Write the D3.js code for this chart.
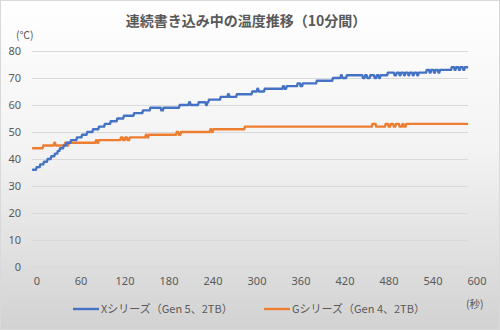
<!DOCTYPE html>
<html><head><meta charset="utf-8">
<script src="https://cdn.jsdelivr.net/npm/d3@7/dist/d3.min.js"></script>
<style>
html,body{margin:0;padding:0;background:#fff;}
svg{display:block;}
text{font-family:"Noto Sans CJK JP","Noto Sans",sans-serif;fill:#595959;}
</style></head>
<body>
<svg id="c" width="500" height="330"></svg>
<script>
// ---- data ----
const title = "連続書き込み中の温度推移（10分間）";
const seriesNames = ["Xシリーズ（Gen 5、2TB）", "Gシリーズ（Gen 4、2TB）"];
const yTicks = [0,10,20,30,40,50,60,70,80];
const xTicks = [0,60,120,180,240,300,360,420,480,540,600];
const endTime = 592;
// change points: [second, °C]
const xSeries = [[0,36],[5,37],[10,38],[15,39],[20,40],[25,41],[30,42],[34,43],[37,44],[42,45],[46,46],[52,47],[60,48],[67,49],[74,50],[82,51],[90,52],[98,53],[106,54],[115,55],[124,56],[138,57],[150,58],[160,59],[175,58],[178,59],[200,60],[213,61],[215,60],[226,61],[236,60],[238,61],[240,62],[256,63],[266,64],[268,63],[278,64],[299,65],[306,66],[308,65],[316,66],[341,67],[343,66],[346,67],[361,68],[365,67],[368,68],[387,69],[409,70],[420,71],[422,70],[428,71],[450,70],[453,71],[456,70],[460,71],[466,70],[469,71],[472,70],[474,71],[484,72],[493,71],[496,72],[500,71],[502,72],[506,71],[508,72],[512,71],[514,72],[518,71],[520,72],[524,71],[526,72],[537,73],[541,72],[543,73],[547,72],[549,73],[553,72],[555,73],[571,74],[575,73],[577,74],[581,73],[583,74],[587,73],[589,74]];
const gSeries = [[0,44],[14,45],[29,46],[31,45],[44,46],[47,45],[49,46],[86,47],[88,46],[90,47],[120,48],[123,47],[126,48],[129,47],[132,48],[154,49],[156,48],[158,49],[196,50],[199,49],[202,50],[242,51],[244,50],[246,51],[289,52],[463,53],[468,52],[481,53],[485,52],[488,53],[492,52],[495,53],[500,52],[504,53],[506,52],[509,53]];
const colors = ["#4472C4", "#ED7D31"];

// ---- drawing ----
const svg = d3.select("#c");
const W = 500, H = 330;
const defs = svg.append("defs");
const grad = defs.append("linearGradient").attr("id","bg").attr("x1",0).attr("y1",0).attr("x2",0).attr("y2",1);
grad.append("stop").attr("offset","0%").attr("stop-color","#ffffff");
grad.append("stop").attr("offset","45%").attr("stop-color","#f3f3f3");
grad.append("stop").attr("offset","100%").attr("stop-color","#d2d2d2");
svg.append("rect").attr("x",0.5).attr("y",0.5).attr("width",W-1).attr("height",H-1)
  .attr("fill","url(#bg)").attr("stroke","#d9d9d9");

const x = d3.scaleLinear().domain([0,600]).range([33,473]);
const y = d3.scaleLinear().domain([0,80]).range([267,51]);
const plotL = 32, plotR = 468;

// y axis with gridlines
const ya = svg.append("g").attr("transform",`translate(${plotL},0)`)
  .call(d3.axisLeft(y).tickValues(yTicks).tickSize(-(plotR-plotL)).tickPadding(11));
ya.select(".domain").remove();
ya.selectAll(".tick line").attr("stroke","#d9d9d9").attr("stroke-width",1);
ya.selectAll(".tick text").attr("font-size","11px").style("font-family","'Noto Sans','DejaVu Sans',sans-serif").attr("fill","#595959");

// x axis labels
const xa = svg.append("g").attr("transform",`translate(3.5,274)`)
  .call(d3.axisBottom(x).tickValues(xTicks).tickSize(0).tickPadding(3));
xa.select(".domain").remove();
xa.selectAll(".tick text").attr("font-size","11px").style("font-family","'Noto Sans','DejaVu Sans',sans-serif").attr("fill","#595959");

// lines
function expand(pts){
  const out = [pts[0]];
  for(let i=1;i<pts.length;i++){
    out.push([pts[i][0]-1, pts[i-1][1]]);
    out.push(pts[i]);
  }
  out.push([endTime, pts[pts.length-1][1]]);
  return out;
}
const line = d3.line().x(d=>x(d[0])).y(d=>y(d[1]));
[gSeries, xSeries].forEach((s,i)=>{
  svg.append("path").datum(expand(s)).attr("d",line)
    .attr("fill","none").attr("stroke", colors[i===0?1:0]).attr("stroke-width",2.4)
    .attr("stroke-linejoin","round").attr("stroke-linecap","round");
});

// title
svg.append("text").attr("x",246).attr("y",26).attr("text-anchor","middle")
  .attr("font-size","14px").attr("font-weight","bold").text(title);
// units
svg.append("text").attr("x",16).attr("y",39).attr("font-size","10.5px").text("(℃)");
svg.append("text").attr("x",466).attr("y",308).attr("font-size","10.5px").text("(秒)");

// legend
const leg = [[73,101],[264,292]];
seriesNames.forEach((n,i)=>{
  svg.append("line").attr("x1",leg[i][0]).attr("x2",leg[i][0]+26).attr("y1",309).attr("y2",309)
    .attr("stroke",colors[i]).attr("stroke-width",2.4);
  svg.append("text").attr("x",leg[i][1]).attr("y",313).attr("font-size","11px").text(n);
});
</script>
</body></html>
